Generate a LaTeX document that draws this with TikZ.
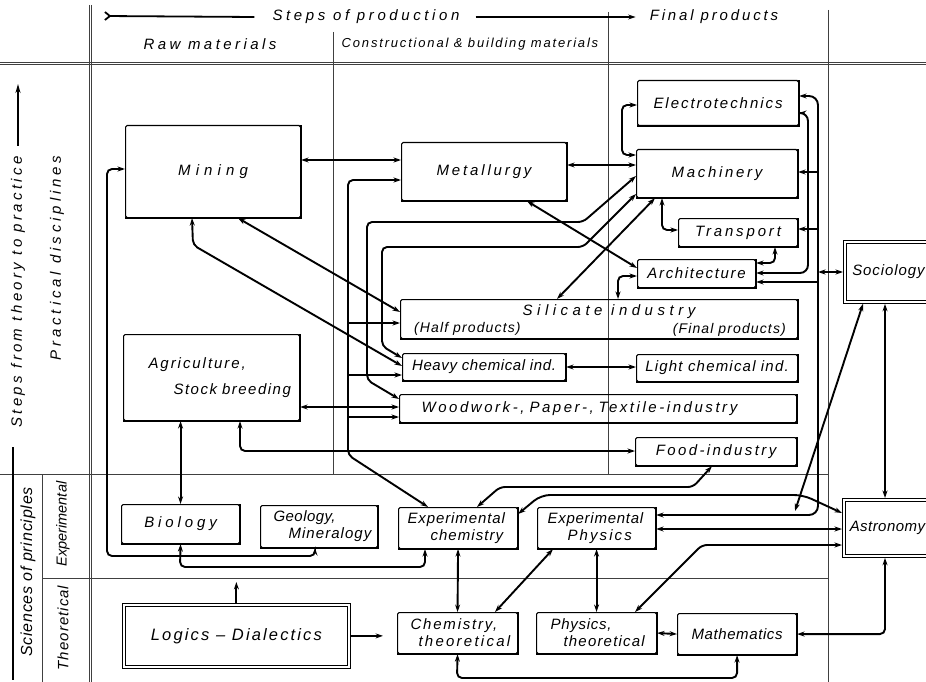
\documentclass[tikz,border=0pt]{standalone}
\usepackage{fontspec}
\setmainfont{Liberation Sans}[ItalicFont={Liberation Sans Italic}]
\usetikzlibrary{arrows.meta}
\newcommand{\LS}[2]{{\addfontfeatures{LetterSpace=#1}#2}}
\begin{document}
\begin{tikzpicture}[x=1pt,y=-1pt,
  every node/.style={font=\fontsize{15}{17}\selectfont\itshape, inner sep=0pt},
  box/.style={draw, line width=1.1pt, rounded corners=1.5pt, anchor=north west, align=center},
  dbox/.style={draw, line width=0.8pt, anchor=north west},
  dinner/.style={line width=0.8pt},
  conn/.style={line width=1.9pt, rounded corners=5pt},
  gridl/.style={line width=0.6pt, black!75},
  shadowl/.style={line width=2.4pt},
  >={Stealth[length=7.5pt,width=5pt]}]
\useasboundingbox (0,0) rectangle (926,682);

% ---------- grid ----------
\draw[gridl] (0,62) -- (926,62);
\draw[gridl] (0,64.5) -- (926,64.5);
\draw[gridl] (89,5) -- (89,682);
\draw[gridl] (91.5,5) -- (91.5,682);
\draw[gridl] (333,32) -- (333,474);
\draw[gridl] (608,12) -- (608,474);
\draw[gridl] (828,10) -- (828,682);
\draw[gridl] (0,474) -- (828,474);
\draw[gridl] (42,578) -- (828,578);
\draw[gridl] (42,474) -- (42,682);

% ---------- headers ----------
\node (sop) at (366,17) {\LS{24}{Steps of production}};
\node (fp) at (714,17) {\LS{19}{Final products}};
\node (raw) at (210,44) {\LS{23}{Raw materials}};
\node[font=\fontsize{13}{15}\selectfont\itshape] (cbm) at (470,44) {\LS{14}{Constructional \& building materials}};
\coordinate (hl) at (104,16);
\draw[line width=1.8pt, {Straight Barb[reversed,length=5pt,width=8pt]}-] (hl) -- ([xshift=-18pt]sop.west);
\draw[line width=1.8pt, ->] ([xshift=16pt]sop.east) -- ([xshift=-14pt]fp.west);

% ---------- left side labels ----------
\node[rotate=90] (stp) at (18,292) {\LS{22}{Steps from theory to practice}};
\coordinate (stptop) at (18,84);
\coordinate (stpmid) at (18,146);
\draw[line width=2.2pt, -{Stealth[length=9pt,width=5pt]}] (stpmid) -- (stptop);
\coordinate (brtop) at (13,447);
\coordinate (brbot) at (13,680);
\draw[line width=2pt] (brtop) -- (brbot);
\node[rotate=90] (pd) at (57,258) {\LS{26}{Practical disciplines}};
\node[rotate=90, font=\fontsize{16}{18}\selectfont\itshape] (sp) at (28,572) {\LS{5}{Sciences of principles}};
\node[rotate=90, font=\fontsize{14.5}{17}\selectfont\itshape] (expl) at (63,524) {Experimental};
\node[rotate=90] (theol) at (63,628) {\LS{7}{Theoretical}};

% ---------- boxes ----------
\node[box, minimum width=175pt, minimum height=92pt] (mining) at (125,125) {\LS{34}{Mining}};
\node[box, minimum width=165pt, minimum height=58pt] (metal) at (401,142) {\LS{19}{Metallurgy}};
\node[box, minimum width=161pt, minimum height=45pt] (elec) at (637,80) {\LS{13}{Electrotechnics}};
\node[box, minimum width=161pt, minimum height=48pt] (mach) at (636,149) {\LS{18}{Machinery}};
\node[box, minimum width=119pt, minimum height=28pt] (trans) at (678,218) {\LS{19}{Transport}};
\node[box, minimum width=118pt, minimum height=28pt] (arch) at (637,259) {\LS{11}{Architecture}};
\node[dbox, minimum width=90pt, minimum height=63pt] (socio) at (843,240) {\LS{6}{Sociology}};
\node[box, minimum width=397pt, minimum height=39pt] (sil) at (400,299) {};
\node (silt) at (609,312) {\LS{30}{Silicate industry}};
\node[anchor=west, font=\fontsize{14}{16}\selectfont\itshape] (silh) at (414,329) {\LS{8}{(Half products)}};
\node[anchor=east, font=\fontsize{14}{16}\selectfont\itshape] (silf) at (786,330) {\LS{8}{(Final products)}};
\node[box, minimum width=163pt, minimum height=27pt] (heavy) at (402,353) {\LS{4}{Heavy chemical ind.}};
\node[box, minimum width=161pt, minimum height=27pt] (light) at (636,354) {\LS{8}{Light chemical ind.}};
\node[box, minimum width=397pt, minimum height=28pt, text width=397pt, align=left] (wood) at (399,394) {\hspace*{22pt}\LS{17}{Woodwork-, Paper-, Textile-industry}};
\node[box, minimum width=161pt, minimum height=28pt] (food) at (635,437) {\LS{16}{Food-industry}};
\node[box, text width=176pt, minimum height=86pt, align=left] (agri) at (123,334) {\hspace*{25pt}\LS{13}{Agriculture,}\\[9pt]\hspace*{50pt}\LS{10}{Stock breeding}};
\node[box, minimum width=118pt, minimum height=39pt] (bio) at (121,504) {\LS{26}{Biology}};
\node[box, text width=117pt, minimum height=42pt, align=left] (geo) at (260,505) {\hspace*{13pt}\LS{3}{Geology,}\\\hspace*{28pt}\LS{7}{Mineralogy}};
\node[box, text width=119pt, minimum height=41pt, align=left] (expchem) at (398,507) {\hspace*{9pt}\LS{6}{Experimental}\\\hspace*{32pt}\LS{7}{chemistry}};
\node[box, text width=118pt, minimum height=41pt, align=left] (expphys) at (537,507) {\hspace*{10pt}\LS{5}{Experimental}\\\hspace*{30pt}\LS{14}{Physics}};
\node[dbox, minimum width=90pt, minimum height=59pt] (astro) at (842,498) {\LS{3}{Astronomy}};
\node[dbox, minimum width=228pt, minimum height=65pt, font=\fontsize{16.5}{19}\selectfont\itshape] (logic) at (122,603) {\LS{13}{Logics -- Dialectics}};
\node[box, text width=120pt, minimum height=41pt, align=left] (chemth) at (397,612) {\hspace*{13pt}\LS{12}{Chemistry,}\\\hspace*{21pt}\LS{15}{theoretical}};
\node[box, text width=120pt, minimum height=41pt, align=left] (physth) at (536,612) {\hspace*{14pt}\LS{5}{Physics,}\\\hspace*{27pt}\LS{8}{theoretical}};
\node[box, minimum width=119pt, minimum height=41pt] (math) at (677,613) {\LS{4}{Mathematics}};

\foreach \n in {mining,metal,elec,mach,trans,arch,sil,heavy,light,wood,food,agri,bio,geo,expchem,expphys,chemth,physth,math}
  \draw[shadowl] (\n.south west) -- (\n.south east) -- (\n.north east);
\foreach \n in {socio,astro,logic}
  \draw[dinner] ([shift={(3,3)}]\n.north west) rectangle ([shift={(-3,-3)}]\n.south east);

% ---------- connectors ----------
\draw[conn,<->] (mining.east |- 0,160) -- (metal.west |- 0,160);
\draw[conn,<->] (metal.east |- 0,165) -- (mach.west |- 0,165);
\draw[conn,<->] (mining.west |- 0,169) -- (107,169) -- (107,556) -- (315,556) -- (315,0 |- geo.south);
\draw[conn,<->] (bio.south) -- (180,567) -- (425,567) -- (425,0 |- expchem.south);
\draw[conn,<->] (bio.north |- agri.south) -- (bio.north);
\draw[conn,->] (logic.north) -- (logic.north |- 0,582);
\draw[conn,->] (logic.east) -- (383,0 |- logic.east);
\draw[conn,<->] (expchem.south) -- (chemth.north);
\draw[conn,<->] (chemth.south) -- (457,678) -- (math.south |- 0,678) -- (math.south);
\draw[conn,<->] (expphys.south) -- (physth.north);
\draw[conn,<->] (553,0 |- expphys.south) -- (495,0 |- chemth.north);
\draw[conn,<->] (physth.east) -- (math.west);
\draw[conn,<->] (math.east) -- (885,0 |- math.east) -- (885,0 |- astro.south);
\draw[conn,<->] (astro.west |- 0,545) -- (702,545) -- (635,0 |- physth.north);
\draw[conn,<->] (expphys.east |- 0,529) -- (astro.west |- 0,529);
\draw[conn,<->,rounded corners=9pt] (elec.east |- 0,96) -- (818,96) -- (818,515) -- (expphys.east |- 0,515);
\draw[conn,<->,rounded corners=8pt] (elec.east |- 0,113) -- (808,113) -- (808,273) -- (arch.east |- 0,273);
\draw[conn,->] (818,172) -- (mach.east |- 0,172);
\draw[conn,->] (818,229) -- (trans.east |- 0,229);
\draw[conn,->] (818,282) -- (arch.east |- 0,282);
\draw[conn,<->] (818,272) -- (socio.west |- 0,272);
\coordinate (socend) at (795,511);
\draw[conn,<->] (863,0 |- socio.south) -- (socend);
\draw[conn,<->] (885,0 |- socio.south) -- (885,0 |- astro.north);
\draw[conn,<->,rounded corners=9pt] (expchem.east |- 0,514) -- (541,495) -- (803,495) -- (astro.west |- 0,513);
\draw[conn,<->] (712,0 |- food.south) -- (693,487) -- (500,487) -- (477,0 |- expchem.north);
\draw[conn,<->] (655,0 |- mach.south) -- (557,0 |- sil.north);
\draw[conn,<->] (527,0 |- metal.south) -- (arch.west |- 0,268);
\draw[conn,<->] (662,0 |- mach.south) -- (662,230) -- (trans.west |- 0,230);
\draw[conn,<->] (775,0 |- trans.south) -- (775,263) -- (arch.east |- 0,263);
\draw[conn,<->] (arch.west |- 0,276) -- (618,276) -- (618,0 |- sil.north);
\draw[conn,<->] (elec.west |- 0,105) -- (622,105) -- (622,155) -- (mach.west |- 0,155);
\draw[conn,<->] (heavy.east |- 0,367) -- (light.west |- 0,367);
\draw[conn,<->] (agri.east |- 0,407) -- (wood.west |- 0,407);
\draw[conn,<->] (240,0 |- agri.south) -- (240,451) -- (food.west |- 0,451);
\draw[conn,<->] (238,0 |- mining.south) -- (sil.west |- 0,312);
\draw[conn,<->] (192,0 |- mining.south) -- (193,245) -- (heavy.west |- 0,366);
\draw[conn,<->] (metal.west |- 0,180) -- (348,180) -- (348,455) -- (428,0 |- expchem.north);
\draw[conn,->] (348,323) -- (sil.west |- 0,323);
\draw[conn,->] (348,375) -- (heavy.west |- 0,375);
\draw[conn,->] (348,417) -- (wood.west |- 0,417);
\draw[conn,<->] (mach.west |- 0,176) -- (583,222) -- (367,222) -- (367,380) -- (wood.west |- 0,399);
\draw[conn,<->] (mach.west |- 0,194) -- (583,247) -- (382,247) -- (382,346) -- (heavy.west |- 0,358);
\end{tikzpicture}
\end{document}
